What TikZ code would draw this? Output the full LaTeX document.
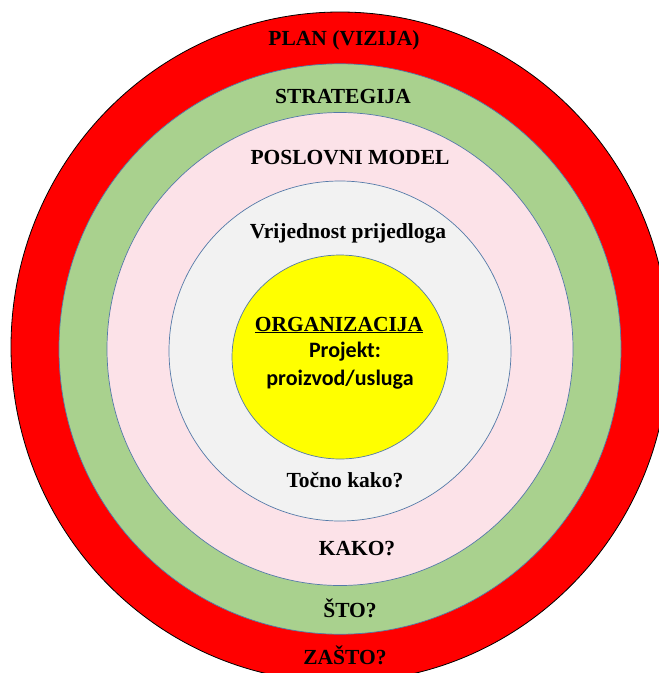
\documentclass[tikz,border=0pt]{standalone}
\usepackage{fontspec}
\setmainfont{Liberation Serif}
\newfontfamily\calibrifont{Carlito}
\usepackage{tikz}

\definecolor{ringred}{RGB}{255,0,0}
\definecolor{ringgreen}{RGB}{169,209,142}
\definecolor{ringpink}{RGB}{252,226,232}
\definecolor{ringgray}{RGB}{242,242,242}
\definecolor{ringyellow}{RGB}{255,255,0}
\definecolor{ringline}{RGB}{84,122,168}

\begin{document}
\begin{tikzpicture}[x=1pt, y=-1pt,
  ring/.style={draw=ringline, line width=0.7pt},
  lbl/.style={font=\fontsize{21.5}{24}\selectfont\bfseries, inner sep=0pt},
  sanslbl/.style={font=\calibrifont\fontsize{22}{24}\selectfont\bfseries, inner sep=0pt}]
\useasboundingbox (0,0) rectangle (659,673);
\clip (0,0) rectangle (659,673);

\pgfmathsetmacro{\sy}{1.015}   % slight vertical stretch
\coordinate (c) at (340,347);
\coordinate (ci) at (340,349);

\fill[ringred, draw=black, line width=0.8pt] (c) ellipse [x radius=329, y radius=335];
\fill[ringgreen, ring] (ci) ellipse [x radius=281, y radius=281*\sy];
\fill[ringpink, ring] (ci) ellipse [x radius=233, y radius=233*\sy];
\fill[ringgray, ring] (340,351) ellipse [x radius=171, y radius=170];
\fill[ringyellow, ring] (340,357) ellipse [x radius=108, y radius=102];

\node[lbl] (plan) at (344,40) {PLAN (VIZIJA)};
\node[lbl] (strat) at (343,96) {STRATEGIJA};
\node[lbl] (model) at (350,158) {POSLOVNI MODEL};
\node[lbl] (vrij) at (348,233) {Vrijednost prijedloga};
\node[lbl] (org) at (339,325) {\underline{ORGANIZACIJA}};
\node[sanslbl] (proj) at (345,352) {Projekt:};
\node[sanslbl] (proiz) at (340,380) {proizvod/usluga};
\node[lbl] (tocno) at (345,480) {Točno kako?};
\node[lbl] (kako) at (357,549) {KAKO?};
\node[lbl] (sto) at (350,608) {ŠTO?};
\node[lbl] (zasto) at (345,655) {ZAŠTO?};
\end{tikzpicture}
\end{document}
